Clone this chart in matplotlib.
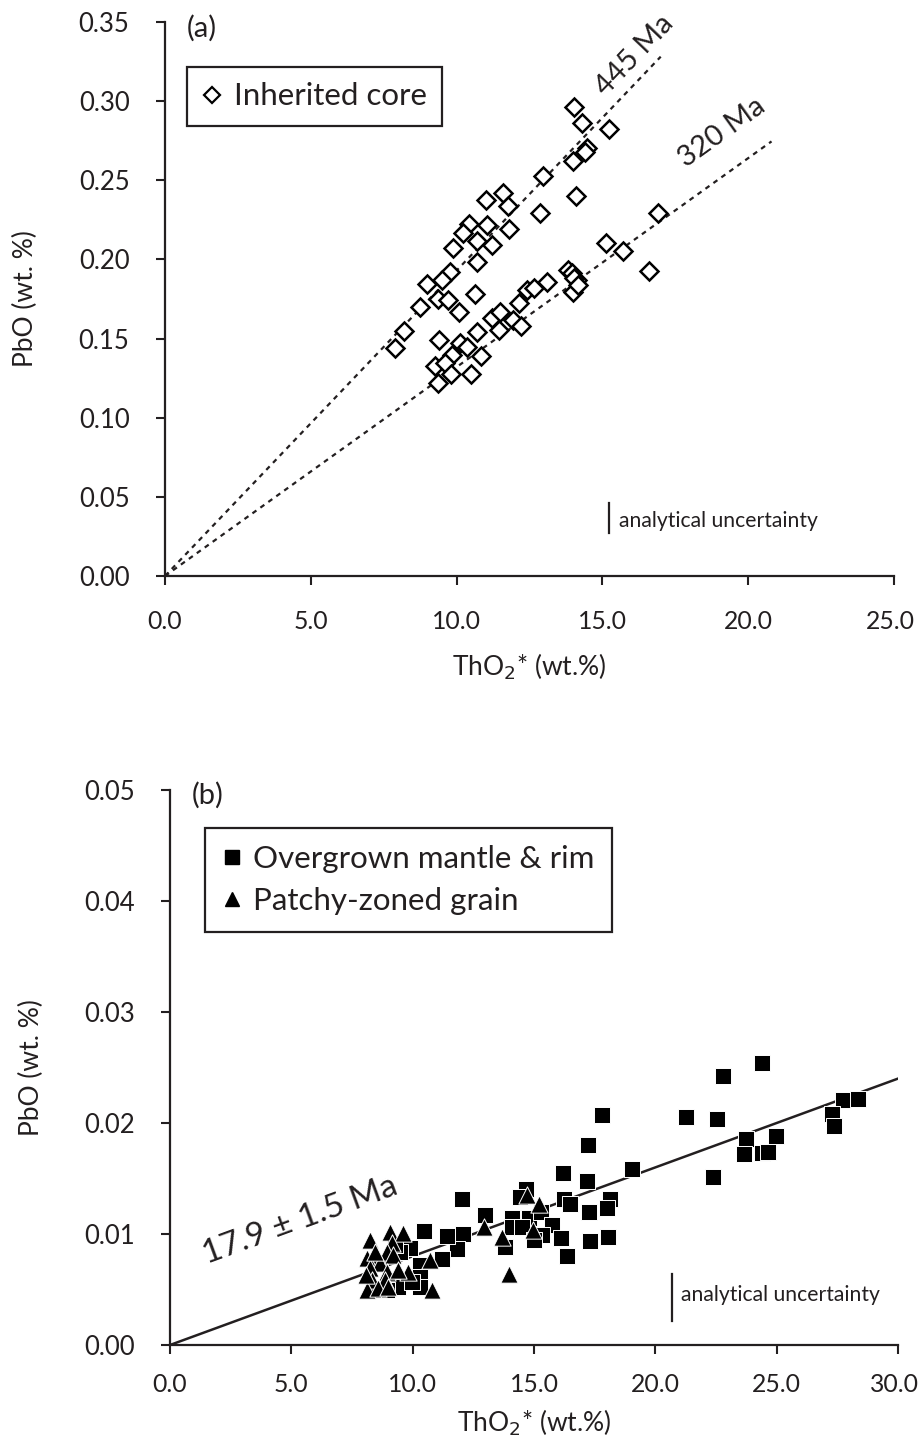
import numpy as np
import matplotlib
matplotlib.use('Agg')
import matplotlib.pyplot as plt
import matplotlib.transforms as mtransforms
from matplotlib.lines import Line2D

plt.rcParams['font.family'] = ['Lato', 'DejaVu Sans']
INK = '#231f20'

# ---------------- Panel (a) data: inherited cores ----------------
core_tho2 = [14.03, 14.30, 15.23, 14.46, 14.40, 14.00, 12.97, 14.09, 11.01, 11.58,
             11.76, 12.86, 10.41, 11.05, 11.81, 10.21, 10.69, 11.20, 9.89, 10.69,
             9.77, 8.97, 9.49, 9.37, 9.72, 10.63, 8.74, 10.08, 8.20, 7.89,
             9.40, 10.12, 10.37, 10.71, 10.83, 9.26, 9.83, 9.60, 9.80, 9.37,
             10.48, 11.20, 11.49, 11.45, 11.94, 12.20, 12.15, 12.40, 12.65, 13.11,
             13.83, 13.95, 14.12, 14.00, 15.12, 15.72, 16.92, 16.61, 14.03, 14.15]
core_pbo = [0.2965, 0.286, 0.2824, 0.2702, 0.268, 0.2622, 0.2529, 0.2403, 0.2375, 0.2418,
            0.2337, 0.2291, 0.2224, 0.2218, 0.2193, 0.2164, 0.2116, 0.2091, 0.2074, 0.1982,
            0.1922, 0.1843, 0.187, 0.175, 0.1744, 0.1782, 0.1701, 0.1666, 0.155, 0.1442,
            0.1491, 0.147, 0.1449, 0.154, 0.139, 0.1327, 0.1396, 0.1348, 0.1276, 0.1217,
            0.1276, 0.1628, 0.167, 0.1554, 0.1617, 0.1581, 0.1727, 0.1807, 0.1818, 0.1859,
            0.1933, 0.1912, 0.187, 0.1796, 0.2102, 0.2055, 0.2291, 0.1927, 0.1882, 0.1838]
age_labels_a = ['445 Ma', '320 Ma']
age_slopes_a = [0.0193, 0.0132]
age_line_end_a = [17.0, 20.8]
age_label_pos_a = [(16.12, 0.329), (19.10, 0.2805)]
unc_a = (15.23, 0.0365, 0.0095)   # x, centre, half-length

# ---------------- Panel (b) data ----------------
rim_tho2 = [24.38, 22.77, 27.72, 28.36, 27.30, 27.36, 17.81, 21.25, 22.53, 17.24,
            24.96, 23.73, 23.65, 24.38, 24.65, 16.18, 17.17, 19.05, 22.36, 12.04,
            16.25, 18.13, 14.67, 14.42, 12.98, 16.48, 17.99, 17.28, 14.08, 14.80,
            14.08, 14.49, 15.27, 15.73, 15.32, 16.10, 17.31, 18.03, 16.35, 15.00,
            13.80, 12.08, 11.81, 11.40, 11.19, 10.47, 9.89, 9.48, 10.30, 10.30,
            9.41, 10.30, 9.96, 8.93, 8.38, 8.65, 9.27]
rim_pbo = [0.02543, 0.02423, 0.02207, 0.02214, 0.02081, 0.01973, 0.02072, 0.02051, 0.02033, 0.01799,
           0.01886, 0.01853, 0.01721, 0.01727, 0.01741, 0.01552, 0.0148, 0.01583, 0.01511, 0.01313,
           0.01318, 0.01318, 0.01403, 0.01336, 0.01171, 0.0127, 0.01232, 0.01201, 0.01141, 0.01141,
           0.0106, 0.0106, 0.01201, 0.01081, 0.00991, 0.00961, 0.0094, 0.0097, 0.00802, 0.00946,
           0.00886, 0.0100, 0.00862, 0.00982, 0.00772, 0.0103, 0.00871, 0.00835, 0.00721, 0.00615,
           0.00525, 0.0052, 0.0057, 0.00495, 0.00495, 0.00748, 0.0090]
patchy_tho2 = [14.70, 15.20, 12.94, 13.69, 14.94, 13.98, 8.24, 9.06, 9.59, 9.13,
               8.93, 8.10, 8.65, 9.18, 8.24, 8.93, 9.82, 9.41, 8.31, 8.86,
               8.10, 8.58, 8.99, 10.78, 10.71, 8.08, 8.45]
patchy_pbo = [0.01351, 0.0127, 0.0106, 0.0097, 0.01036, 0.0064, 0.00946, 0.01021, 0.01006, 0.00916,
              0.0084, 0.00781, 0.00736, 0.00811, 0.00691, 0.0066, 0.0066, 0.00676, 0.00586, 0.00586,
              0.00495, 0.00511, 0.00525, 0.00495, 0.00766, 0.00631, 0.0084]
age_label_b = '17.9 \u00b1 1.5 Ma'
age_slope_b = 0.0008
age_line_end_b = 30.0
age_label_pos_b = (5.35, 0.0112)
unc_b = (20.67, 0.0043, 0.0021)

fig = plt.figure(figsize=(9.19, 14.39), dpi=100)
ax_a = fig.add_axes([165/919, 1 - 576/1439, 729/919, 554/1439])
ax_b = fig.add_axes([170/919, 1 - 1345/1439, 728/919, 555/1439])


def style_axes(ax, xmax, ymax, xstep, ystep, yfmt, xfmt, xpad, xlabelpad):
    ax.set_xlim(0, xmax)
    ax.set_ylim(0, ymax)
    for s in ('top', 'right'):
        ax.spines[s].set_visible(False)
    for s in ('left', 'bottom'):
        ax.spines[s].set_linewidth(1.6)
        ax.spines[s].set_color(INK)
    xt = np.arange(0, xmax + 1e-9, xstep)
    yt = np.arange(0, ymax + 1e-9, ystep)
    ax.set_xticks(xt)
    ax.set_yticks(yt)
    ax.set_xticklabels([xfmt.format(v) for v in xt])
    ax.set_yticklabels([yfmt.format(v) for v in yt])
    ax.tick_params(axis='both', direction='out', length=6.5, width=1.5, color=INK,
                   labelcolor=INK, labelsize=18.5)
    ax.tick_params(axis='x', labelsize=17.8)
    ax.tick_params(axis='y', pad=19)
    ax.tick_params(axis='x', pad=xpad)
    ax.set_ylabel('PbO (wt. %)', fontsize=19, color=INK, labelpad=29)
    ax.set_xlabel('ThO$_2$* (wt.%)', fontsize=19, color=INK, labelpad=xlabelpad)
    # nudge the last x tick label a little left so it stays inside the figure
    last = ax.get_xticklabels()[-1]
    last.set_transform(last.get_transform() +
                       mtransforms.ScaledTranslation(-4 / 100, 0, fig.dpi_scale_trans))


def screen_angle(ax, slope):
    p0 = ax.transData.transform((0, 0))
    p1 = ax.transData.transform((10, 10 * slope))
    return np.degrees(np.arctan2(p1[1] - p0[1], p1[0] - p0[0]))

# ---- Panel (a) ----
style_axes(ax_a, 25, 0.35, 5, 0.05, '{:.2f}', '{:.1f}', 18, 13)
for lab, sl, xe, pos in zip(age_labels_a, age_slopes_a, age_line_end_a, age_label_pos_a):
    ax_a.plot([0, xe], [0, sl * xe], ls=(0, (2.2, 2.2)), lw=1.6, color=INK, zorder=1)
    ax_a.text(pos[0], pos[1], lab, rotation=screen_angle(ax_a, sl), rotation_mode='anchor',
              ha='center', va='center', fontsize=21, color=INK)
ax_a.plot(core_tho2, core_pbo, ls='none', marker='D', ms=8.7, mfc='white', mec='black',
          mew=1.8, zorder=3, clip_on=False)
ax_a.plot([unc_a[0], unc_a[0]], [unc_a[1] - unc_a[2], unc_a[1] + unc_a[2]], color=INK, lw=1.6)
ax_a.text(unc_a[0] + 0.35, unc_a[1] - 0.0015, 'analytical uncertainty', fontsize=15.2,
          color=INK, ha='left', va='center')
ax_a.text(0.03, 0.989, '(a)', transform=ax_a.transAxes, fontsize=21, color=INK,
          ha='left', va='center')
h_a = [Line2D([], [], ls='none', marker='D', ms=8, mfc='white', mec='black', mew=1.6)]
leg_a = ax_a.legend(h_a, ['Inherited core'], loc='upper left', bbox_to_anchor=(0.03, 0.919),
                    frameon=True, fancybox=False, edgecolor=INK, framealpha=1, fontsize=22.5,
                    handlelength=0.6, handletextpad=0.4, borderpad=0.5, borderaxespad=0)
leg_a.get_frame().set_linewidth(1.6)
for t in leg_a.get_texts():
    t.set_color(INK)

# ---- Panel (b) ----
style_axes(ax_b, 30, 0.05, 5, 0.01, '{:.2f}', '{:.1f}', 14, 8)
ax_b.plot([0, age_line_end_b], [0, age_slope_b * age_line_end_b], color=INK, lw=1.8, zorder=1)
ax_b.scatter(rim_tho2, rim_pbo, marker='s', s=120, facecolor='black', edgecolor='white',
             linewidth=0.7, zorder=3)
ax_b.scatter(patchy_tho2, patchy_pbo, marker='^', s=155, facecolor='black', edgecolor='white',
             linewidth=0.7, zorder=4)
ax_b.text(age_label_pos_b[0], age_label_pos_b[1], age_label_b,
          rotation=screen_angle(ax_b, age_slope_b), rotation_mode='anchor',
          ha='center', va='center', fontsize=24, color=INK)
ax_b.plot([unc_b[0], unc_b[0]], [unc_b[1] - unc_b[2], unc_b[1] + unc_b[2]], color=INK, lw=1.6)
ax_b.text(unc_b[0] + 0.4, unc_b[1] + 0.0002, 'analytical uncertainty', fontsize=15.2,
          color=INK, ha='left', va='center')
ax_b.text(0.03, 0.991, '(b)', transform=ax_b.transAxes, fontsize=21, color=INK,
          ha='left', va='center')
h_b = [Line2D([], [], ls='none', marker='s', ms=10, mfc='black', mec='black'),
       Line2D([], [], ls='none', marker='^', ms=9.5, mfc='black', mec='black')]
leg_b = ax_b.legend(h_b, ['Overgrown mantle & rim', 'Patchy-zoned grain'], loc='upper left',
                    bbox_to_anchor=(0.048, 0.9315), frameon=True, fancybox=False,
                    edgecolor=INK, framealpha=1, fontsize=22.5, handlelength=0.6,
                    handletextpad=0.4, borderpad=0.55, labelspacing=0.45, borderaxespad=0)
leg_b.get_frame().set_linewidth(1.6)
for t in leg_b.get_texts():
    t.set_color(INK)

fig.savefig('out.png', dpi=100)
